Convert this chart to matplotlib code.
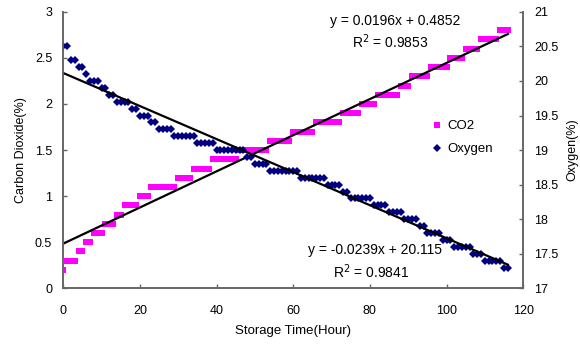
import matplotlib
matplotlib.use("Agg")
import matplotlib.pyplot as plt
import numpy as np

plt.rcParams["font.family"] = ["Liberation Sans", "DejaVu Sans"]

# storage time (hours), one reading per hour
hours = list(range(117))

# carbon dioxide (%)
co2 = [0.2,
       0.3, 0.3, 0.3,
       0.4, 0.4,
       0.5, 0.5,
       0.6, 0.6, 0.6,
       0.7, 0.7, 0.7,
       0.8, 0.8,
       0.9, 0.9, 0.9, 0.9,
       1.0, 1.0, 1.0,
       1.1, 1.1, 1.1, 1.1, 1.1, 1.1, 1.1,
       1.2, 1.2, 1.2, 1.2,
       1.3, 1.3, 1.3, 1.3, 1.3,
       1.4, 1.4, 1.4, 1.4, 1.4, 1.4, 1.4,
       1.5, 1.5, 1.5, 1.5, 1.5, 1.5, 1.5, 1.5,
       1.6, 1.6, 1.6, 1.6, 1.6, 1.6,
       1.7, 1.7, 1.7, 1.7, 1.7, 1.7,
       1.8, 1.8, 1.8, 1.8, 1.8, 1.8, 1.8,
       1.9, 1.9, 1.9, 1.9, 1.9,
       2.0, 2.0, 2.0, 2.0,
       2.1, 2.1, 2.1, 2.1, 2.1, 2.1,
       2.2, 2.2, 2.2,
       2.3, 2.3, 2.3, 2.3, 2.3,
       2.4, 2.4, 2.4, 2.4, 2.4,
       2.5, 2.5, 2.5, 2.5,
       2.6, 2.6, 2.6, 2.6,
       2.7, 2.7, 2.7, 2.7, 2.7,
       2.8, 2.8, 2.8]

# oxygen (%)
oxygen = [20.5, 20.5,
          20.3, 20.3,
          20.2, 20.2,
          20.1,
          20.0, 20.0, 20.0,
          19.9, 19.9,
          19.8, 19.8,
          19.7, 19.7, 19.7, 19.7,
          19.6, 19.6,
          19.5, 19.5, 19.5,
          19.4, 19.4,
          19.3, 19.3, 19.3, 19.3,
          19.2, 19.2, 19.2, 19.2, 19.2, 19.2,
          19.1, 19.1, 19.1, 19.1, 19.1,
          19.0, 19.0, 19.0, 19.0, 19.0, 19.0, 19.0, 19.0,
          18.9, 18.9,
          18.8, 18.8, 18.8, 18.8,
          18.7, 18.7, 18.7, 18.7, 18.7, 18.7, 18.7, 18.7,
          18.6, 18.6, 18.6, 18.6, 18.6, 18.6, 18.6,
          18.5, 18.5, 18.5, 18.5,
          18.4, 18.4,
          18.3, 18.3, 18.3, 18.3, 18.3, 18.3,
          18.2, 18.2, 18.2, 18.2,
          18.1, 18.1, 18.1, 18.1,
          18.0, 18.0, 18.0, 18.0,
          17.9, 17.9,
          17.8, 17.8, 17.8, 17.8,
          17.7, 17.7, 17.7,
          17.6, 17.6, 17.6, 17.6, 17.6,
          17.5, 17.5, 17.5,
          17.4, 17.4, 17.4, 17.4, 17.4,
          17.3, 17.3]

# linear trendlines as printed on the chart (slope, intercept, R^2)
co2_fit = (0.0196, 0.4852, 0.9853)
o2_fit = (-0.0239, 20.115, 0.9841)

AXIS_GRAY = "#666666"

fig = plt.figure(figsize=(5.8, 3.47), dpi=100)
ax = fig.add_axes([0.109, 0.169, 0.793, 0.797])
ax2 = ax.twinx()

ax.plot(hours, co2, linestyle="none", marker="s", markersize=4.8,
        color="#FF00FF", markeredgewidth=0, label="CO2")
ax2.plot(hours, oxygen, linestyle="none", marker="D", markersize=3.6,
         color="#000080", markeredgewidth=0, label="Oxygen")

x_line = np.array([hours[0], hours[-1]])
ax.plot(x_line, co2_fit[0] * x_line + co2_fit[1], color="black", lw=1.6)
ax2.plot(x_line, o2_fit[0] * x_line + o2_fit[1], color="black", lw=1.6)

ax.set_xlim(0, 120)
ax.set_ylim(0, 3)
ax2.set_ylim(17, 21)
ax.set_xticks(np.arange(0, 121, 20))
ax.set_yticks(np.arange(0, 3.01, 0.5))
ax.set_yticklabels(["0", "0.5", "1", "1.5", "2", "2.5", "3"])
ax2.set_yticks(np.arange(17, 21.01, 0.5))
ax2.set_yticklabels(["17", "17.5", "18", "18.5", "19", "19.5", "20", "20.5", "21"])

for a in (ax, ax2):
    a.spines["top"].set_visible(False)
    for s in a.spines.values():
        s.set_color(AXIS_GRAY)
        s.set_linewidth(1.2)
    a.tick_params(direction="in", length=3, width=1, color=AXIS_GRAY,
                  labelsize=9, pad=8)
ax.tick_params(axis="x", pad=12)

ax.set_xlabel("Storage Time(Hour)", fontsize=9.5, labelpad=6)
ax.set_ylabel("Carbon Dioxide(%)", fontsize=9, labelpad=6)
ax2.set_ylabel("Oxygen(%)", fontsize=9, labelpad=6)

ax.text(103.5, 2.90, f"y = {co2_fit[0]}x + {co2_fit[1]}", ha="right", va="center", fontsize=10)
ax.text(95.2, 2.675, f"R$^2$ = {co2_fit[2]}", ha="right", va="center", fontsize=10)
ax.text(98.8, 0.415, f"y = {o2_fit[0]}x + {o2_fit[1]}", ha="right", va="center", fontsize=10)
ax.text(90.4, 0.18, f"R$^2$ = {o2_fit[2]}", ha="right", va="center", fontsize=10)

h1, l1 = ax.get_legend_handles_labels()
h2, l2 = ax2.get_legend_handles_labels()
ax.legend(h1[:1] + h2[:1], l1[:1] + l2[:1], loc="center left",
          bbox_to_anchor=(0.775, 0.545), frameon=False, fontsize=9.5,
          handlelength=0.8, handletextpad=0.4, labelspacing=0.8)

fig.savefig("out.png", dpi=100)
